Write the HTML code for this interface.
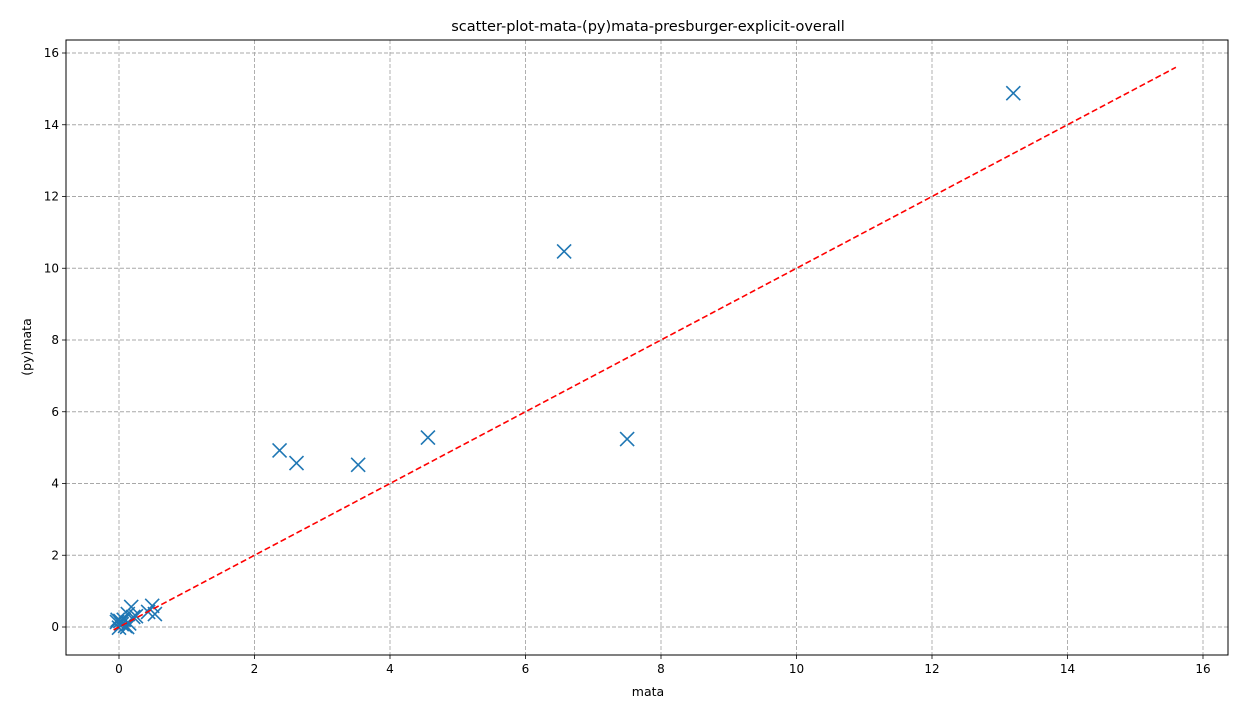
<!DOCTYPE html>
<html><head><meta charset="utf-8"><style>
body{margin:0;background:#fff;font-family:"Liberation Sans","DejaVu Sans",sans-serif}
</style></head><body>
<svg id="chart" width="1248" height="719" xmlns="http://www.w3.org/2000/svg" font-family="DejaVu Sans, Liberation Sans, sans-serif"></svg>
<script>
const xValues=[13.2,6.57,7.5,4.56,2.37,2.62,3.53,0.18,0.49,0.53,0.43,0.13,0.21,0.07,0.02,-0.03,0.09,0.12,0.04,0.0,-0.02,0.15,0.25];
const yValues=[14.88,10.47,5.24,5.28,4.92,4.57,4.52,0.56,0.59,0.36,0.42,0.36,0.28,0.2,0.17,0.14,0.03,0.0,0.08,-0.02,0.2,0.1,0.3];
const xTicks=[0,2,4,6,8,10,12,14,16];
const yTicks=[0,2,4,6,8,10,12,14,16];
const lineRange=[-0.08,15.6];
const NS="http://www.w3.org/2000/svg";
const svg=document.getElementById('chart');
const L=66,R=1228,T=40,B=655;
const sx=v=>119+v*67.75;
const sy=v=>627-v*35.875;
function mk(tag,attrs,parent){const e=document.createElementNS(NS,tag);for(const k in attrs)e.setAttribute(k,attrs[k]);(parent||svg).appendChild(e);return e;}
const grid=mk('g',{});


xTicks.forEach(t=>{const x=sx(t);
 mk('line',{x1:x,x2:x,y1:T,y2:B,stroke:'#a8a8a8','stroke-dasharray':'4,2','stroke-width':0.9},grid);
 mk('line',{x1:x,x2:x,y1:B,y2:B+4,stroke:'#000','stroke-width':0.8});
 const tx=mk('text',{x:x,y:B+18,'text-anchor':'middle','font-size':12});
 
 
 tx.textContent=t;});
yTicks.forEach(t=>{const y=sy(t);
 mk('line',{x1:L,x2:R,y1:y,y2:y,stroke:'#a8a8a8','stroke-dasharray':'4,2','stroke-width':0.9},grid);
 mk('line',{x1:L-4,x2:L,y1:y,y2:y,stroke:'#000','stroke-width':0.8});
 const tx=mk('text',{x:L-7,y:y+4,'text-anchor':'end','font-size':12});
 
 
 tx.textContent=t;});
const pts=mk('g',{stroke:'#1f77b4','stroke-width':1.6,fill:'none'});


xValues.forEach((v,i)=>{const x=sx(v),y=sy(yValues[i]),s=7;
 const p=mk('path',{d:`M${x-s},${y-s}L${x+s},${y+s}M${x-s},${y+s}L${x+s},${y-s}`},pts);
 
 });
const ln=mk('line',{x1:sx(lineRange[0]),y1:sy(lineRange[0]),x2:sx(lineRange[1]),y2:sy(lineRange[1]),stroke:'#ff0000','stroke-width':1.6,'stroke-dasharray':'6,3'});


const fr=mk('rect',{x:L,y:T,width:R-L,height:B-T,fill:'none',stroke:'#000','stroke-width':1});


const ti=mk('text',{x:648,y:31,'text-anchor':'middle','font-size':14.5});


ti.textContent='scatter-plot-mata-(py)mata-presburger-explicit-overall';
const xl=mk('text',{x:648,y:696,'text-anchor':'middle','font-size':12.5});


xl.textContent='mata';
const yl=mk('text',{x:31,y:347,'text-anchor':'middle','font-size':12.5,transform:'rotate(-90 31 347)'});


yl.textContent='(py)mata';
</script>
</body></html>
